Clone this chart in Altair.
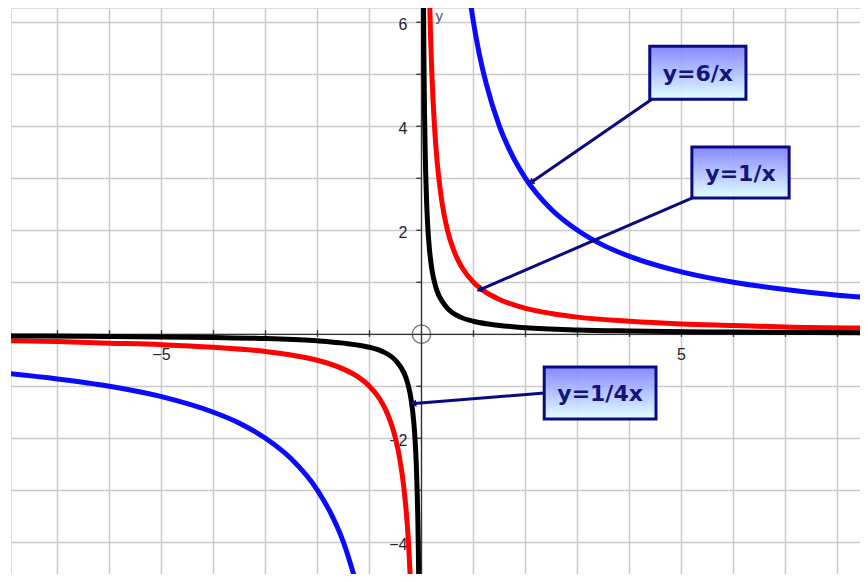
import altair as alt
import pandas as pd

# ---- data ----
blue_pos_x = [0.9, 1.0, 1.1, 1.25, 1.5, 1.75, 2.0, 2.5, 3.0, 3.5, 4.0, 5.0, 6.0, 7.0, 8.0, 8.5]
blue_pos_y = [6.67, 6.0, 5.45, 4.8, 4.0, 3.43, 3.0, 2.4, 2.0, 1.71, 1.5, 1.2, 1.0, 0.86, 0.75, 0.71]
blue_neg_x = [-8.0, -7.0, -6.0, -5.0, -4.0, -3.5, -3.0, -2.5, -2.0, -1.75, -1.5, -1.25]
blue_neg_y = [-0.75, -0.86, -1.0, -1.2, -1.5, -1.71, -2.0, -2.4, -3.0, -3.43, -4.0, -4.8]

red_pos_x = [0.15, 0.175, 0.2, 0.25, 0.3, 0.35, 0.4, 0.5, 0.6, 0.7, 0.8, 1.0, 1.25, 1.5, 2.0, 2.5, 3.0, 4.0, 5.0, 6.0, 7.0, 8.5]
red_pos_y = [6.67, 5.71, 5.0, 4.0, 3.33, 2.86, 2.5, 2.0, 1.67, 1.43, 1.25, 1.0, 0.8, 0.67, 0.5, 0.4, 0.33, 0.25, 0.2, 0.17, 0.14, 0.12]
red_neg_x = [-8.0, -7.0, -6.0, -5.0, -4.0, -3.0, -2.5, -2.0, -1.5, -1.25, -1.0, -0.8, -0.7, -0.6, -0.5, -0.4, -0.35, -0.3, -0.25, -0.2]
red_neg_y = [-0.125, -0.14, -0.17, -0.2, -0.25, -0.33, -0.4, -0.5, -0.67, -0.8, -1.0, -1.25, -1.43, -1.67, -2.0, -2.5, -2.86, -3.33, -4.0, -5.0]

black_pos_x = [0.035, 0.04, 0.045, 0.05, 0.06, 0.07, 0.08, 0.1, 0.125, 0.15, 0.2, 0.25, 0.3, 0.4, 0.5, 0.75, 1.0, 1.5, 2.0, 3.0, 4.0, 6.0, 8.5]
black_pos_y = [7.14, 6.25, 5.56, 5.0, 4.17, 3.57, 3.13, 2.5, 2.0, 1.67, 1.25, 1.0, 0.83, 0.63, 0.5, 0.33, 0.25, 0.17, 0.125, 0.083, 0.063, 0.042, 0.029]
black_neg_x = [-8.0, -6.0, -4.0, -3.0, -2.0, -1.5, -1.0, -0.75, -0.5, -0.4, -0.3, -0.25, -0.2, -0.15, -0.125, -0.1, -0.08, -0.07, -0.06, -0.05]
black_neg_y = [-0.031, -0.042, -0.063, -0.083, -0.125, -0.17, -0.25, -0.33, -0.5, -0.63, -0.83, -1.0, -1.25, -1.67, -2.0, -2.5, -3.13, -3.57, -4.17, -5.0]

x_tick_values = [-5, 5]
x_tick_labels = ["\u22125", "5"]
y_tick_values = [6, 4, 2, -2, -4]
y_tick_labels = ["6", "4", "2", "\u22122", "\u22124"]
grid_x = list(range(-7, 9))
grid_y = list(range(-4, 7))

labels = ["y=6/x", "y=1/x", "y=1/4x"]

# ---- layout (pixels -> data) ----
X_DOMAIN = [-7.894, 8.433]
Y_DOMAIN = [-4.61, 6.275]
W, H = 849, 566


def curve_df(xs, ys, branch):
    return pd.DataFrame({"x": xs, "y": ys, "branch": branch})


xs = alt.Scale(domain=X_DOMAIN, nice=False, zero=False)
ys = alt.Scale(domain=Y_DOMAIN, nice=False, zero=False)
X = alt.X("x:Q", scale=xs, axis=alt.Axis(values=grid_x, grid=True, labels=False, ticks=False,
                                          domain=False, title=None, gridColor="#cacaca", gridWidth=1.5))
Y = alt.Y("y:Q", scale=ys, axis=alt.Axis(values=grid_y, grid=True, labels=False, ticks=False,
                                          domain=False, title=None, gridColor="#cacaca", gridWidth=1.5))


def curve(xp, yp, xn, yn, color, width=5):
    df = pd.concat([curve_df(xp, yp, "p"), curve_df(xn, yn, "n")])
    return alt.Chart(df).mark_line(clip=True, color=color, strokeWidth=width,
                                   interpolate="monotone").encode(x=X, y=Y, detail="branch:N")


# axes through origin
axes_df = pd.DataFrame({"x": [X_DOMAIN[0], 0], "y": [0, Y_DOMAIN[0]],
                        "x2": [X_DOMAIN[1], 0], "y2": [0, Y_DOMAIN[1]]})
axes = alt.Chart(axes_df).mark_rule(color="#333333", strokeWidth=1.3).encode(
    x=X, y=Y, x2="x2:Q", y2="y2:Q")

xt_df = pd.DataFrame({"x": [v for v in grid_x if v != 0], "y": -0.05, "y2": 0.08})
xticks = alt.Chart(xt_df).mark_rule(color="#333333", strokeWidth=1.3).encode(x=X, y=Y, y2="y2:Q")
yt_df = pd.DataFrame({"y": [v for v in grid_y if v != 0], "x": -0.1, "x2": 0.0})
yticks = alt.Chart(yt_df).mark_rule(color="#333333", strokeWidth=1.3).encode(x=X, y=Y, x2="x2:Q")

xl_df = pd.DataFrame({"x": x_tick_values, "y": -0.40, "t": x_tick_labels})
xlabels = alt.Chart(xl_df).mark_text(fontSize=16, font="Liberation Sans", color="#22222e",
                                     baseline="middle", align="center").encode(x=X, y=Y, text="t:N")
yl_df = pd.DataFrame({"x": -0.27, "y": y_tick_values, "t": y_tick_labels})
ylabels = alt.Chart(yl_df).mark_text(fontSize=16, font="Liberation Sans", color="#22222e",
                                     baseline="middle", align="right", dy=3).encode(x=X, y=Y, text="t:N")
yname = alt.Chart(pd.DataFrame({"x": [0.34], "y": [6.13], "t": ["y"]})).mark_text(
    fontSize=15, font="Liberation Sans", color="#4a5575", baseline="middle", align="center"
).encode(x=X, y=Y, text="t:N")

origin = alt.Chart(pd.DataFrame({"x": [0], "y": [0]})).mark_point(
    shape="circle", size=340, filled=False, color="#444444", strokeWidth=1.5).encode(x=X, y=Y)

# annotation boxes
box_df = pd.DataFrame({
    "x": [4.39, 5.20, 2.36], "x2": [6.24, 7.07, 4.51],
    "y": [5.54, 3.60, -0.63], "y2": [4.52, 2.62, -1.63],
    "cx": [5.315, 6.135, 3.435], "cy": [5.03, 3.11, -1.13],
    "t": labels,
})
grad = alt.Gradient(gradient="linear",
                    stops=[alt.GradientStop(color="#7f7fff", offset=0),
                           alt.GradientStop(color="#e0ffff", offset=1)],
                    x1=0, x2=0, y1=0, y2=1)
boxes = alt.Chart(box_df).mark_rect(fill=grad, stroke="#0a0a80", strokeWidth=3, fillOpacity=0.93).encode(
    x=X, x2="x2:Q", y=Y, y2="y2:Q")
box_text = alt.Chart(box_df).mark_text(fontSize=22, font="DejaVu Sans", fontWeight="bold",
                                       color="#14147a", baseline="middle", align="center", dy=1).encode(
    x=alt.X("cx:Q", scale=xs), y=alt.Y("cy:Q", scale=ys), text="t:N")

arrow_df = pd.DataFrame({
    "x": [4.43, 5.20, 2.36], "y": [4.52, 2.62, -1.13],
    "x2": [2.12, 1.13, -0.14], "y2": [2.93, 0.86, -1.33],
    "ang": [236, 247, 265],
})
arrows = alt.Chart(arrow_df).mark_rule(color="#0a0a80", strokeWidth=3).encode(
    x=X, y=Y, x2="x2:Q", y2="y2:Q")
heads = alt.Chart(arrow_df).mark_point(shape="triangle", filled=True, size=50, color="#0a0a80",
                                       opacity=1).encode(
    x=alt.X("x2:Q", scale=xs), y=alt.Y("y2:Q", scale=ys), angle=alt.Angle("ang:Q", scale=None))

chart = alt.layer(
    axes, xticks, yticks, xlabels, ylabels, yname,
    curve(blue_pos_x, blue_pos_y, blue_neg_x, blue_neg_y, "#0a0aff"),
    curve(red_pos_x, red_pos_y, red_neg_x, red_neg_y, "#ff0000"),
    curve(black_pos_x, black_pos_y, black_neg_x, black_neg_y, "#000000"),
    origin, arrows, heads, boxes, box_text,
).properties(
    width=W, height=H,
    autosize=alt.AutoSizeParams(type="none"),
    padding={"left": 3, "top": 0, "right": 0, "bottom": 0},
).configure_view(stroke=None).configure(background="white")

chart.save("out.html", embed_options={"renderer": "svg", "actions": False})
